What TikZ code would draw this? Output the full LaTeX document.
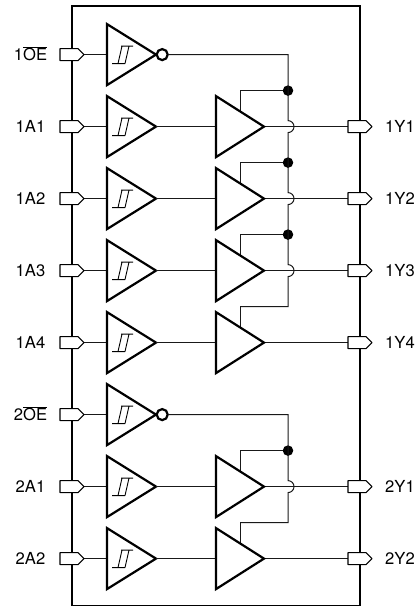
\documentclass[tikz,border=0pt]{standalone}
\usepackage{fontspec}
\setmainfont{TeX Gyre Heros}
\tikzset{
  x=1pt,y=-1pt,
  wire/.style={line width=1pt,black!90},
  outline/.style={line width=2.2pt,line join=miter,fill=white},
  pinshape/.style={line width=1.2pt,fill=white,line join=round},
  hyst/.style={line width=0.9pt},
  jdot/.style={circle,fill=black,inner sep=0pt,minimum size=10.5pt},
  bubble/.style={circle,draw,line width=2.2pt,fill=white,inner sep=0pt,minimum size=11pt},
  lab/.style={font=\fontsize{16.6}{18}\selectfont,inner sep=0pt,text height=12pt,text depth=0pt},
}
% #1 row name, #2 y, #3 label
\newcommand{\inrow}[3]{%
  \coordinate (#1p) at (84,#2);
  \coordinate (#1t) at (107,#2);
  \coordinate (#1o) at (156,#2);
  \node[lab,anchor=center] (#1l) at (30.5,#2) {#3};
  \draw[wire] (#1p) -- (#1t);
  \draw[pinshape] (60,#2-6) -- (78,#2-6) -- (#1p) -- (78,#2+6) -- (60,#2+6) -- cycle;
  \draw[outline] (107,#2-30.5) -- (#1o) -- (107,#2+30.5) -- cycle;
  \draw[hyst] (112,#2+9) -- (125,#2+9) (121,#2-8.5) -- (133,#2-8.5)
     (118,#2+9) -- (122,#2-8.5) (125,#2+9) -- (129,#2-8.5);
}
% #1 input row, #2 output name, #3 y, #4 label
\newcommand{\outrow}[4]{%
  \coordinate (#2t) at (216,#3);
  \coordinate (#2o) at (264,#3);
  \coordinate (#2e) at (240,#3-15);
  \coordinate (#2c) at (240,#3-36);
  \coordinate (#2p) at (348,#3);
  \node[lab,anchor=west] (#2l) at (385,#3) {#4};
  \draw[wire] (#1o) -- (#2t);
  \draw[wire] (#2o) -- (#2p);
  \draw[wire] (#2e) -- (#2c);
  \draw[pinshape] (#2p) ++(0,-6) -- (366,#3-6) -- (372,#3) -- (366,#3+6) -- (348,#3+6) -- cycle;
  \draw[outline] (216,#3-30.5) -- (#2o) -- (216,#3+30.5) -- cycle;
}
\begin{document}
\begin{tikzpicture}
\useasboundingbox (0,0) rectangle (419,606);
\draw[line width=2.2pt] (72,605.6) -- (72,6.3) -- (360,6.3) -- (360,605.6) -- cycle;

\inrow{a}{54.6}{1$\overline{\mbox{OE}}$}
\inrow{b}{126.6}{1A1}
\inrow{c}{198.6}{1A2}
\inrow{d}{270.6}{1A3}
\inrow{e}{342.6}{1A4}
\inrow{f}{414.6}{2$\overline{\mbox{OE}}$}
\inrow{g}{486.6}{2A1}
\inrow{h}{558.6}{2A2}

\outrow{b}{B}{126.6}{1Y1}
\outrow{c}{C}{198.6}{1Y2}
\outrow{d}{D}{270.6}{1Y3}
\outrow{e}{E}{342.6}{1Y4}
\outrow{g}{G}{486.6}{2Y1}
\outrow{h}{H}{558.6}{2Y2}

\node[bubble] (ab) at (162.2,54.6) {};
\node[bubble] (fb) at (162.2,414.6) {};
\coordinate (abus) at (288,54.6);
\coordinate (fbus) at (288,414.6);
\node[jdot] (d1) at (288,90.6) {};
\node[jdot] (d2) at (288,162.6) {};
\node[jdot] (d3) at (288,234.6) {};
\node[jdot] (d4) at (288,450.6) {};

\draw[wire,line join=miter] (ab) -- (abus) -- (288,120.6)
   arc[start angle=-90,end angle=90,radius=6] -- (288,192.6)
   arc[start angle=-90,end angle=90,radius=6] -- (288,264.6)
   arc[start angle=-90,end angle=90,radius=6] -- (288,306.6) -- (Ec);
\draw[wire,line join=miter] (fb) -- (fbus) -- (288,480.6)
   arc[start angle=-90,end angle=90,radius=6] -- (288,522.6) -- (Hc);
\draw[wire] (d1) -- (Bc);
\draw[wire] (d2) -- (Cc);
\draw[wire] (d3) -- (Dc);
\draw[wire] (d4) -- (Gc);
\end{tikzpicture}
\end{document}
